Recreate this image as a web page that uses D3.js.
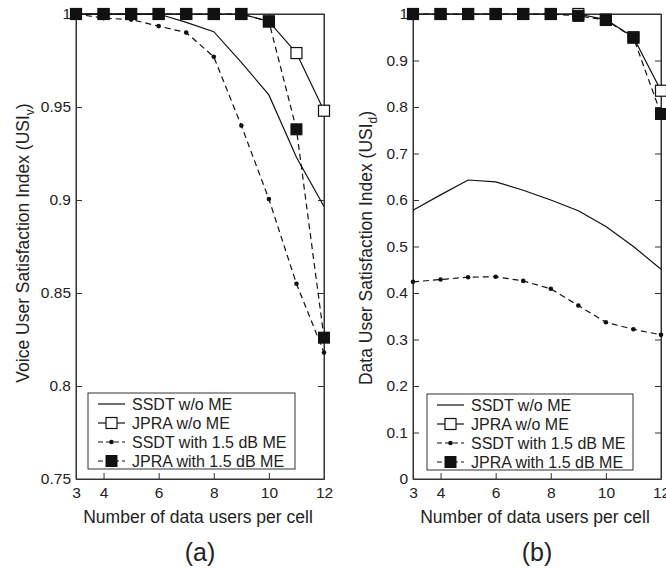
<!DOCTYPE html>
<html>
<head>
<meta charset="utf-8">
<script src="https://cdn.jsdelivr.net/npm/d3@7"></script>
<style>
  html, body { margin: 0; padding: 0; background: #fff; }
  svg { display: block; }
  text { font-family: "Liberation Sans", Arial, Helvetica, sans-serif; fill: #222; }
</style>
</head>
<body>
<svg id="chart" width="666" height="569"></svg>
<script>
// ---------- data ----------
const users = [3, 4, 5, 6, 7, 8, 9, 10, 11, 12];
const xTicks = [3, 4, 6, 8, 10, 12];

// (a) Voice USI
const voiceSSDT     = [1.000, 1.000, 1.000, 1.000, 0.9955, 0.9905, 0.974, 0.9565, 0.923, 0.8965];
const voiceJPRA     = [1.000, 1.000, 1.000, 1.000, 1.000, 1.000, 1.000, 0.996, 0.979, 0.948];
const voiceSSDTME   = [1.000, 0.9978, 0.997, 0.9935, 0.990, 0.977, 0.940, 0.9005, 0.855, 0.818];
const voiceJPRAME   = [1.000, 1.000, 1.000, 1.000, 1.000, 1.000, 1.000, 0.996, 0.938, 0.826];
const voiceYTicks   = [0.75, 0.8, 0.85, 0.9, 0.95, 1];

// (b) Data USI
const dataSSDT      = [0.578, 0.611, 0.643, 0.639, 0.621, 0.600, 0.577, 0.543, 0.500, 0.451];
const dataJPRA      = [1.000, 1.000, 1.000, 1.000, 1.000, 1.000, 1.000, 0.988, 0.950, 0.835];
const dataSSDTME    = [0.424, 0.429, 0.434, 0.435, 0.426, 0.409, 0.373, 0.337, 0.322, 0.310];
const dataJPRAME    = [1.000, 1.000, 1.000, 1.000, 1.000, 1.000, 0.996, 0.987, 0.949, 0.785];
const dataYTicks    = [0, 0.1, 0.2, 0.3, 0.4, 0.5, 0.6, 0.7, 0.8, 0.9, 1];

const seriesNames = ["SSDT w/o ME", "JPRA w/o ME", "SSDT with 1.5 dB ME", "JPRA with 1.5 dB ME"];

// ---------- drawing ----------
const svg = d3.select("#chart");
const AXIS = "#333";

const seriesStyle = [
  { dash: null,  marker: "none" },
  { dash: null,  marker: "open" },
  { dash: "6,4", marker: "dot" },
  { dash: "6,4", marker: "filled" }
];

function drawMarker(g, type, cx, cy) {
  const s = 11;
  if (type === "open") {
    g.append("rect").attr("x", cx - s/2).attr("y", cy - s/2).attr("width", s).attr("height", s)
      .attr("fill", "#fff").attr("stroke", "#111").attr("stroke-width", 1.2);
  } else if (type === "filled") {
    g.append("rect").attr("x", cx - s/2).attr("y", cy - s/2).attr("width", s).attr("height", s)
      .attr("fill", "#111").attr("stroke", "#111").attr("stroke-width", 1);
  } else if (type === "dot") {
    g.append("circle").attr("cx", cx).attr("cy", cy).attr("r", 2.3).attr("fill", "#111");
  }
}

function panel(opt) {
  const g = svg.append("g");
  const x = d3.scaleLinear().domain([3, 12]).range([opt.x0, opt.x1]);
  const y = d3.scaleLinear().domain(opt.yDomain).range([opt.y1, opt.y0]);
  const tl = 6;

  // box
  g.append("rect").attr("x", opt.x0).attr("y", opt.y0)
    .attr("width", opt.x1 - opt.x0).attr("height", opt.y1 - opt.y0)
    .attr("fill", "none").attr("stroke", AXIS).attr("stroke-width", 1);

  // axes with inward ticks
  const bottom = g.append("g").attr("transform", `translate(0,${opt.y1})`)
    .call(d3.axisBottom(x).tickValues(xTicks).tickSizeInner(-tl).tickSizeOuter(0).tickPadding(10).tickFormat(d3.format("d")));
  const top = g.append("g").attr("transform", `translate(0,${opt.y0})`)
    .call(d3.axisTop(x).tickValues(xTicks).tickSizeInner(-tl).tickSizeOuter(0).tickFormat(""));
  const left = g.append("g").attr("transform", `translate(${opt.x0},0)`)
    .call(d3.axisLeft(y).tickValues(opt.yTicks).tickSizeInner(-tl).tickSizeOuter(0).tickPadding(5).tickFormat(d => d3.format("")(+d.toFixed(2))));
  const right = g.append("g").attr("transform", `translate(${opt.x1},0)`)
    .call(d3.axisRight(y).tickValues(opt.yTicks).tickSizeInner(-tl).tickSizeOuter(0).tickFormat(""));
  [bottom, top, left, right].forEach(a => {
    a.select(".domain").attr("stroke", AXIS);
    a.selectAll(".tick line").attr("stroke", AXIS);
    a.selectAll(".tick text").style("font-family", '"Liberation Sans", Arial, sans-serif')
      .style("font-size", "15.5px").attr("fill", "#222");
  });
  bottom.selectAll(".tick text").attr("dy", "0.55em");

  // series
  const line = d3.line().x((d, i) => x(users[i])).y(d => y(d));
  opt.series.forEach((vals, k) => {
    const st = seriesStyle[k];
    g.append("path").datum(vals).attr("d", line)
      .attr("fill", "none").attr("stroke", "#111").attr("stroke-width", 1.2)
      .attr("stroke-dasharray", st.dash);
  });
  opt.series.forEach((vals, k) => {
    const st = seriesStyle[k];
    const mg = g.append("g");
    vals.forEach((v, i) => drawMarker(mg, st.marker, x(users[i]), y(v)));
  });

  // legend
  const L = opt.legend;
  g.append("rect").attr("x", L.x).attr("y", L.y).attr("width", L.w).attr("height", L.h)
    .attr("fill", "#fff").attr("stroke", AXIS).attr("stroke-width", 1);
  seriesNames.forEach((name, k) => {
    const st = seriesStyle[k];
    const ry = L.y + 11 + k * 19;
    const sx0 = L.x + 10, sx1 = L.x + 37;
    g.append("line").attr("x1", sx0).attr("x2", sx1).attr("y1", ry).attr("y2", ry)
      .attr("stroke", "#111").attr("stroke-width", 1.2).attr("stroke-dasharray", st.dash ? "5,3" : null);
    drawMarker(g, st.marker, (sx0 + sx1) / 2, ry);
    g.append("text").attr("x", L.x + 44).attr("y", ry).attr("dy", "0.35em")
      .style("font-size", "16px").text(name);
  });

  // x label
  const cx = (opt.x0 + opt.x1) / 2;
  g.append("text").attr("x", cx - 2).attr("y", 523).attr("text-anchor", "middle")
    .style("font-size", "17.5px").text("Number of data users per cell");
  g.append("text").attr("x", cx).attr("y", 561).attr("text-anchor", "middle")
    .style("font-size", "25px").text(opt.tag);

  // y label (rotated, with subscript)
  const yl = g.append("text")
    .attr("transform", `translate(${opt.ylx},${opt.yly}) rotate(-90)`)
    .attr("text-anchor", "middle").style("font-size", "17.5px");
  yl.append("tspan").text(opt.ylabel + " (USI");
  yl.append("tspan").attr("dy", 5).style("font-size", "12px").text(opt.sub);
  yl.append("tspan").attr("dy", -5).text(")");
}

panel({
  x0: 76, x1: 324, y0: 14, y1: 479,
  yDomain: [0.75, 1], yTicks: voiceYTicks,
  series: [voiceSSDT, voiceJPRA, voiceSSDTME, voiceJPRAME],
  legend: { x: 88, y: 393, w: 207, h: 76 },
  ylabel: "Voice User Satisfaction Index", sub: "v", ylx: 29, yly: 243,
  tag: "(a)"
});

panel({
  x0: 413, x1: 661, y0: 14, y1: 479,
  yDomain: [0, 1], yTicks: dataYTicks,
  series: [dataSSDT, dataJPRA, dataSSDTME, dataJPRAME],
  legend: { x: 427, y: 394, w: 206, h: 76 },
  ylabel: "Data User Satisfaction Index", sub: "d", ylx: 372, yly: 248,
  tag: "(b)"
});
</script>
</body>
</html>
